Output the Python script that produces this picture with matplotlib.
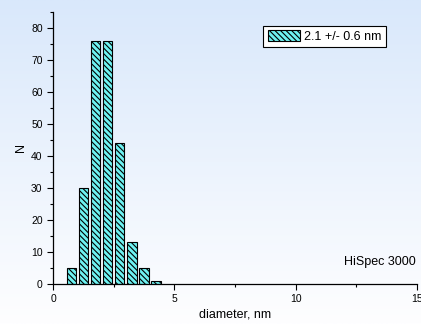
import numpy as np
import matplotlib
matplotlib.use("Agg")
import matplotlib.pyplot as plt
from matplotlib.colors import LinearSegmentedColormap
from matplotlib.ticker import MultipleLocator

plt.rcParams['font.family'] = ['Liberation Sans', 'DejaVu Sans']
plt.rcParams['font.size'] = 7.5
plt.rcParams['hatch.linewidth'] = 0.8

# size histogram
bin_centers = [0.75, 1.25, 1.75, 2.25, 2.75, 3.25, 3.75, 4.25]
counts = [5, 30, 76, 76, 44, 13, 5, 1]
bin_width = 0.5
legend_label = "2.1 +/- 0.6 nm"
instrument = "HiSpec 3000"

fig = plt.figure(figsize=(4.21, 3.24), dpi=100)

# blue to white background wash
bg = fig.add_axes([0, 0, 1, 1], zorder=-10)
cmap = LinearSegmentedColormap.from_list("wash", ["#d9e8fb", "#fefeff"])
grad = np.linspace(0, 1, 256).reshape(-1, 1)
bg.imshow(grad, aspect="auto", cmap=cmap, extent=[0, 1, 0, 1])
bg.set_axis_off()

ax = fig.add_axes([0.126, 0.1235, 0.864, 0.8395])
ax.patch.set_alpha(0)
ax.bar(bin_centers, counts, width=bin_width * 0.78, color="#6ef2f2",
       edgecolor="black", linewidth=0.8, hatch="\\\\\\\\\\\\", label=legend_label)

ax.set_xlim(0, 15)
ax.set_ylim(0, 85)
ax.xaxis.set_major_locator(MultipleLocator(5))
ax.xaxis.set_minor_locator(MultipleLocator(2.5))
ax.yaxis.set_major_locator(MultipleLocator(10))
ax.yaxis.set_minor_locator(MultipleLocator(5))
ax.tick_params(which="major", direction="out", length=4, width=0.8, labelsize=7.5)
ax.tick_params(which="minor", direction="out", length=2.5, width=0.8)
for s in ["top", "right"]:
    ax.spines[s].set_visible(False)
for s in ["left", "bottom"]:
    ax.spines[s].set_linewidth(0.9)

ax.set_xlabel("diameter, nm", fontsize=9, labelpad=3)
ax.set_ylabel("N", fontsize=9, labelpad=3)

leg = ax.legend(loc="upper right", bbox_to_anchor=(0.932, 0.972), fontsize=9,
                fancybox=False, framealpha=1, edgecolor="black",
                handlelength=2.6, handleheight=1.0, handletextpad=0.3,
                borderpad=0.35)
leg.get_frame().set_linewidth(0.8)

ax.text(14.95, 7, instrument, fontsize=9, ha="right", va="center")

fig.savefig("out.png", dpi=100)
